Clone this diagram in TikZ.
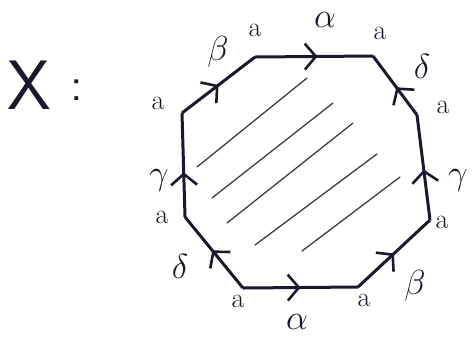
\documentclass[tikz,border=0pt]{standalone}
\usepackage{amsmath, amssymb}
\usepackage{tikz}
\usetikzlibrary{arrows.meta,calc,positioning}
\usetikzlibrary{decorations.markings}
\definecolor{ink}{rgb}{0.1,0.1,0.18}

\tikzset{
  glued/.style={line width=3pt, draw=ink, line join=round,
    postaction={decorate},
    decoration={markings, mark=at position #1 with
      {\arrow{Straight Barb[length=11pt,width=26pt,line width=2.6pt]}}}},
  glued/.default=0.5,
  hatch/.style={line width=1.3pt, draw=ink!85, line cap=round},
  vlab/.style={text=ink, font=\fontsize{28}{28}\selectfont},
  elab/.style={text=ink, font=\Huge, scale=1.4}
}

\begin{document}
\begin{tikzpicture}[x=1pt,y=-1pt]
        \useasboundingbox (0,0) rectangle (473,341);
        %Corners
        \coordinate (v1) at (182,113);
        \coordinate (v2) at (255,57);
        \coordinate (v3) at (373,56);
        \coordinate (v4) at (417,115);
        \coordinate (v5) at (430,220);
        \coordinate (v6) at (358,287);
        \coordinate (v7) at (243,288);
        \coordinate (v8) at (185,217);
        %Name
        \node[text=ink, font=\sffamily\fontsize{70}{70}\selectfont] (name) at (29,85) {X};
        \node[text=ink, font=\sffamily\fontsize{48}{48}\selectfont] (colon) at (77,90) {:};
        %Shade
        \draw[hatch] (197,167) -- (307,78);
        \draw[hatch] (212,198) -- (333,103);
        \draw[hatch] (227,223) -- (353,123);
        \draw[hatch] (255,245) -- (377,154);
        \draw[hatch] (302,251) -- (400,177);
        %Draw edges
        \draw[glued] (v1) -- (v2);
        \draw[glued=0.53] (v2) -- (v3);
        \draw[glued=0.47] (v4) -- (v3);
        \draw[glued=0.48] (v5) -- (v4);
        \draw[glued] (v6) -- (v5);
        \draw[glued] (v7) -- (v6);
        \draw[glued=0.53] (v7) -- (v8);
        \draw[glued=0.43] (v8) -- (v1);
        %Vertex labels
        \node[vlab] (a1) at (158,103) {a};
        \node[vlab] (a2) at (255,30) {a};
        \node[vlab] (a3) at (380,33) {a};
        \node[vlab] (a4) at (443,107) {a};
        \node[vlab] (a5) at (442,222) {a};
        \node[vlab] (a6) at (364,300) {a};
        \node[vlab] (a7) at (238,301) {a};
        \node[vlab] (a8) at (162,217) {a};
        %Edge labels
        \node[elab] (b1) at (218,52) {$\beta$};
        \node[elab] (al1) at (325,20) {$\alpha$};
        \node[elab] (d1) at (422,66) {$\delta$};
        \node[elab] (g1) at (458,180) {$\gamma$};
        \node[elab] (b2) at (415,286) {$\beta$};
        \node[elab] (al2) at (297,322) {$\alpha$};
        \node[elab] (d2) at (180,266) {$\delta$};
        \node[elab] (g2) at (159,180) {$\gamma$};
      \end{tikzpicture}
\end{document}
